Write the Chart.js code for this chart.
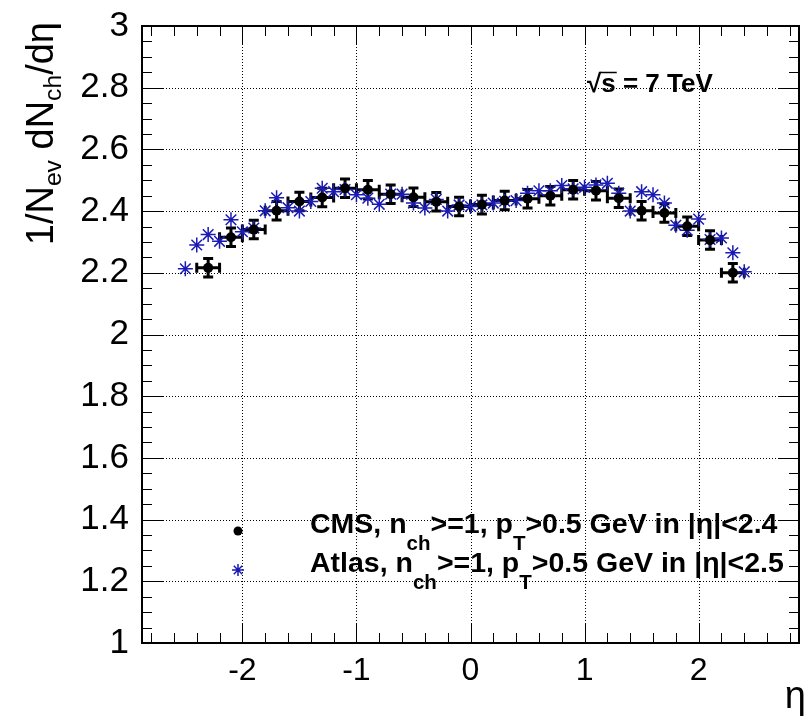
<!DOCTYPE html>
<html>
<head>
<meta charset="utf-8">
<script src="https://cdn.jsdelivr.net/npm/chart.js@4.4.1/dist/chart.umd.min.js"></script>
<style>
  html, body { margin: 0; padding: 0; background: #fff; }
  canvas { display: block; }
</style>
</head>
<body>
<canvas id="myChart" width="808" height="724"></canvas>
<script>
// #region data
const cmsEta = [-2.3, -2.1, -1.9, -1.7, -1.5, -1.3, -1.1, -0.9, -0.7, -0.5, -0.3, -0.1,
                0.1, 0.3, 0.5, 0.7, 0.9, 1.1, 1.3, 1.5, 1.7, 1.9, 2.1, 2.3];
const cmsVal = [2.216, 2.315, 2.340, 2.401, 2.431, 2.444, 2.474, 2.469, 2.455, 2.445, 2.430, 2.415,
                2.421, 2.434, 2.440, 2.450, 2.469, 2.466, 2.442, 2.401, 2.394, 2.351, 2.306, 2.200];
const cmsErr = [0.03, 0.03, 0.03, 0.03, 0.03, 0.03, 0.03, 0.03, 0.03, 0.03, 0.03, 0.03,
                0.03, 0.03, 0.03, 0.03, 0.03, 0.03, 0.03, 0.03, 0.03, 0.03, 0.03, 0.03];
const cmsHalfBin = 0.1;

const atlasEta = [-2.5, -2.4, -2.3, -2.2, -2.1, -2.0, -1.9, -1.8, -1.7, -1.6,
                  -1.5, -1.4, -1.3, -1.2, -1.1, -1.0, -0.9, -0.8, -0.7, -0.6,
                  -0.5, -0.4, -0.3, -0.2, -0.1, 0.0, 0.1, 0.2, 0.3, 0.4,
                  0.5, 0.6, 0.7, 0.8, 0.9, 1.0, 1.1, 1.2, 1.3, 1.4,
                  1.5, 1.6, 1.7, 1.8, 1.9, 2.0, 2.1, 2.2, 2.3, 2.4];
const atlasVal = [2.213, 2.290, 2.324, 2.302, 2.372, 2.333, 2.345, 2.401, 2.443, 2.411,
                  2.400, 2.431, 2.474, 2.463, 2.470, 2.453, 2.442, 2.422, 2.455, 2.455,
                  2.426, 2.410, 2.438, 2.400, 2.420, 2.415, 2.420, 2.426, 2.432, 2.434,
                  2.458, 2.466, 2.466, 2.483, 2.472, 2.477, 2.485, 2.490, 2.458, 2.400,
                  2.463, 2.453, 2.426, 2.354, 2.338, 2.374, 2.308, 2.313, 2.265, 2.203];

const xTicks = [-2, -1, 0, 1, 2];
const yTicks = [1, 1.2, 1.4, 1.6, 1.8, 2, 2.2, 2.4, 2.6, 2.8, 3];
// #endregion data

const
    FONT = '"Liberation Sans", Arial, Helvetica, sans-serif',
    atlasColor = '#1a1ab4';

function rich(ctx, parts, x, y, size, weight, subScale, subShift, align) {
    const font = s => `${weight} ${s}px ${FONT}`;
    let w = 0;
    parts.forEach(([t, sub]) => {
        ctx.font = font(sub ? size * subScale : size);
        w += ctx.measureText(t).width;
    });
    let cx = (align === 'right' ? x - w : x);
    ctx.textAlign = 'left';
    ctx.textBaseline = 'alphabetic';
    parts.forEach(([t, sub]) => {
        ctx.font = font(sub ? size * subScale : size);
        ctx.fillText(t, cx, y + (sub ? size * subShift : 0));
        cx += ctx.measureText(t).width;
    });
    return w;
}

function star(ctx, x, y, r, color) {
    ctx.save();
    ctx.strokeStyle = color;
    ctx.lineWidth = 1.5;
    ctx.beginPath();
    const d = r * Math.SQRT1_2;
    ctx.moveTo(x - r, y); ctx.lineTo(x + r, y);
    ctx.moveTo(x, y - r); ctx.lineTo(x, y + r);
    ctx.moveTo(x - d, y - d); ctx.lineTo(x + d, y + d);
    ctx.moveTo(x - d, y + d); ctx.lineTo(x + d, y - d);
    ctx.stroke();
    ctx.restore();
}

const rootFrame = {
    id: 'rootFrame',
    beforeDatasetsDraw(chart) {
        const { ctx, chartArea: a, scales: { x, y } } = chart;
        ctx.save();
        // dotted grid
        ctx.setLineDash([1, 2]);
        ctx.strokeStyle = '#000';
        ctx.lineWidth = 1;
        ctx.beginPath();
        xTicks.forEach(v => {
            const px = Math.round(x.getPixelForValue(v)) + 0.5;
            ctx.moveTo(px, a.top); ctx.lineTo(px, a.bottom);
        });
        yTicks.forEach(v => {
            const py = Math.round(y.getPixelForValue(v)) + 0.5;
            ctx.moveTo(a.left, py); ctx.lineTo(a.right, py);
        });
        ctx.stroke();
        ctx.setLineDash([]);

        // CMS error bars
        ctx.strokeStyle = '#000';
        ctx.lineWidth = 3;
        ctx.beginPath();
        cmsEta.forEach((eta, i) => {
            const px = x.getPixelForValue(eta), py = y.getPixelForValue(cmsVal[i]);
            const x1 = x.getPixelForValue(eta - cmsHalfBin), x2 = x.getPixelForValue(eta + cmsHalfBin);
            const y1 = y.getPixelForValue(cmsVal[i] + cmsErr[i]), y2 = y.getPixelForValue(cmsVal[i] - cmsErr[i]);
            ctx.moveTo(x1, py); ctx.lineTo(x2, py);
            ctx.moveTo(x1, py - 5); ctx.lineTo(x1, py + 5);
            ctx.moveTo(x2, py - 5); ctx.lineTo(x2, py + 5);
            ctx.moveTo(px, y1); ctx.lineTo(px, y2);
            ctx.moveTo(px - 5, y1); ctx.lineTo(px + 5, y1);
            ctx.moveTo(px - 5, y2); ctx.lineTo(px + 5, y2);
        });
        ctx.stroke();
        ctx.restore();
    },
    afterDraw(chart) {
        const { ctx, chartArea: a, scales: { x, y } } = chart;
        ctx.save();
        ctx.strokeStyle = '#000';

        // ticks on all four sides
        ctx.lineWidth = 1;
        ctx.beginPath();
        for (let k = -14; k <= 14; k++) {
            const v = k / 5, px = Math.round(x.getPixelForValue(v)) + 0.5;
            const len = (k % 5 === 0 ? 19 : 10);
            ctx.moveTo(px, a.bottom); ctx.lineTo(px, a.bottom - len);
            ctx.moveTo(px, a.top); ctx.lineTo(px, a.top + len);
        }
        for (let k = 0; k <= 40; k++) {
            const v = 1 + k * 0.05, py = Math.round(y.getPixelForValue(v)) + 0.5;
            const len = (k % 4 === 0 ? 21 : 10);
            ctx.moveTo(a.left, py); ctx.lineTo(a.left + len, py);
            ctx.moveTo(a.right, py); ctx.lineTo(a.right - len, py);
        }
        ctx.stroke();

        // frame
        ctx.lineWidth = 2;
        ctx.strokeRect(a.left, a.top, a.right - a.left, a.bottom - a.top);

        // axis titles
        ctx.fillStyle = '#000';
        ctx.save();
        ctx.translate(53, 22);
        ctx.rotate(-Math.PI / 2);
        rich(ctx, [['1/N'], ['ev', 1], [' dN'], ['ch', 1], ['/d\u03b7']], 0, 0, 38, 'normal', 0.65, 0.22, 'right');
        ctx.restore();
        rich(ctx, [['\u03b7']], 806, 708, 38, 'normal', 1, 0, 'right');

        // energy label
        const w0 = rich(ctx, [['\u221a']], 587, 92, 26, 'bold', 1, 0);
        rich(ctx, [['s = 7 TeV']], 587 + w0, 92, 26, 'bold', 1, 0);
        ctx.font = `bold 26px ${FONT}`;
        const ws = ctx.measureText('s').width;
        ctx.lineWidth = 1.5;
        ctx.beginPath();
        ctx.moveTo(587 + w0 - 1, 72.5); ctx.lineTo(587 + w0 + ws + 1, 72.5);
        ctx.stroke();

        // legend
        ctx.beginPath();
        ctx.arc(238, 531, 4.5, 0, 2 * Math.PI);
        ctx.fill();
        star(ctx, 238, 570, 6, atlasColor);
        rich(ctx, [['CMS, n'], ['ch', 1], ['>=1, p'], ['T', 1], ['>0.5 GeV in |\u03b7|<2.4']],
            310, 533, 28.5, 'bold', 0.72, 0.6);
        rich(ctx, [['Atlas, n'], ['ch', 1], ['>=1, p'], ['T', 1], ['>0.5 GeV in |\u03b7|<2.5']],
            310, 572, 28.5, 'bold', 0.72, 0.6);
        ctx.restore();
    }
};

const ctx = document.getElementById('myChart').getContext('2d');
new Chart(ctx, {
    type: 'scatter',
    data: {
        datasets: [
            {
                label: 'CMS',
                data: cmsEta.map((e, i) => ({ x: e, y: cmsVal[i] })),
                pointStyle: 'circle',
                pointRadius: 5,
                pointHoverRadius: 5,
                backgroundColor: '#000',
                borderColor: '#000',
                borderWidth: 0
            },
            {
                label: 'Atlas',
                data: atlasEta.map((e, i) => ({ x: e, y: atlasVal[i] })),
                pointStyle: 'star',
                pointRadius: 7.5,
                pointHoverRadius: 7.5,
                backgroundColor: atlasColor,
                borderColor: atlasColor,
                borderWidth: 1.5
            }
        ]
    },
    options: {
        responsive: false,
        animation: false,
        layout: { padding: { top: 24, right: 1, left: 0, bottom: 0 } },
        plugins: {
            legend: { display: false },
            tooltip: { enabled: false }
        },
        scales: {
            x: {
                type: 'linear',
                min: -2.88,
                max: 2.88,
                grid: { display: false },
                border: { display: false },
                ticks: {
                    color: '#000',
                    font: { family: FONT, size: 32 },
                    padding: 1,
                    maxRotation: 0,
                    autoSkip: false
                },
                afterBuildTicks: s => { s.ticks = xTicks.map(v => ({ value: v })); },
                afterFit: s => { s.height = 81; }
            },
            y: {
                type: 'linear',
                min: 1,
                max: 3,
                grid: { display: false },
                border: { display: false },
                ticks: {
                    color: '#000',
                    font: { family: FONT, size: 35 },
                    padding: 5,
                    autoSkip: false,
                    callback: v => String(Math.round(v * 10) / 10)
                },
                afterBuildTicks: s => { s.ticks = yTicks.map(v => ({ value: v })); },
                afterFit: s => { s.width = 142; }
            }
        }
    },
    plugins: [rootFrame]
});
</script>
</body>
</html>
